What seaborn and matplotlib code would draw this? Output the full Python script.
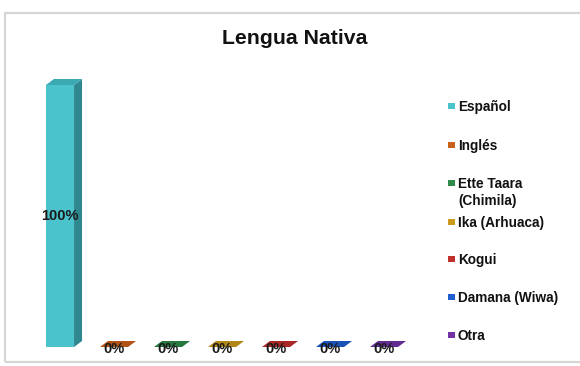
import matplotlib
matplotlib.use("Agg")
import matplotlib.pyplot as plt
from matplotlib.patches import Polygon, Rectangle
import seaborn as sns

# Data
languages = ["Español", "Inglés", "Ette Taara\n(Chimila)", "Ika (Arhuaca)",
             "Kogui", "Damana (Wiwa)", "Otra"]
percentages = [100, 0, 0, 0, 0, 0, 0]
value_labels = ["100%", "0%", "0%", "0%", "0%", "0%", "0%"]

front_colors = ["#4AC3CD", "#C8611C", "#2F8A4C", "#C99A1D", "#C0302C", "#1F5FCF", "#7233A4"]
side_colors = ["#2F8890", "#8E4410", "#1E6034", "#8D6A10", "#85201D", "#153F8E", "#4F2172"]
top_colors = ["#3AA9B2", "#B05314", "#27793F", "#B08617", "#A92725", "#1A52B5", "#632C91"]

sns.set_theme(style="white")
plt.rcParams["font.family"] = ["Liberation Sans", "DejaVu Sans"]

W, H = 580, 366
fig = plt.figure(figsize=(W / 100, H / 100), dpi=100)
fig.patch.set_facecolor("white")

# Chart frame
frame = Rectangle((5 / W, 1 - 362 / H), 1.2, (362 - 13) / H, transform=fig.transFigure,
                  fill=False, edgecolor="#D6D6D6", linewidth=1.6, clip_on=False)
fig.patches.append(frame)

# Plot area: bar spacing 54 px, baseline at 347 px, 100% at 85 px
step = 54.0
x0_px = 60 - 0.6 * step
ax_w = 7.2 * step
base_px = 347
unit = (347 - 85) / 100.0
ax_h = 105 * unit
ax = fig.add_axes([x0_px / W, (H - base_px) / H, ax_w / W, ax_h / H])

sns.barplot(x=languages, y=percentages, hue=languages, palette=front_colors,
            width=0.52, ax=ax, legend=False, saturation=1, linewidth=0)
ax.set_xlim(-0.6, 6.6)
ax.set_ylim(0, 105)
ax.set_axis_off()

# Depth faces for a 3D look, offset in pixels
dx, dy = 8, 6
fig.canvas.draw()
bars = sorted(ax.patches, key=lambda p: p.get_x())
for bar, sc, tc in zip(bars, side_colors, top_colors):
    bx, bw, bh = bar.get_x(), bar.get_width(), bar.get_height()
    (lx, by), (rx, ty) = ax.transData.transform([(bx, 0), (bx + bw, bh)])
    side = Polygon([(rx, by), (rx, ty), (rx + dx, ty + dy), (rx + dx, by + dy)],
                   closed=True, facecolor=sc, edgecolor="none")
    top = Polygon([(lx, ty), (rx, ty), (rx + dx, ty + dy), (lx + dx, ty + dy)],
                  closed=True, facecolor=tc, edgecolor="none")
    for face in (side, top):
        face.set_transform(None)
        face.set_clip_on(False)
        ax.add_patch(face)
        face.set_zorder(2)

# Value labels
for i, (v, lab) in enumerate(zip(percentages, value_labels)):
    if v > 0:
        ax.text(i, v / 2, lab, ha="center", va="center", fontsize=10.5,
                fontweight="bold", color="#1A1A1A", zorder=5)
    else:
        ax.annotate(lab, (i, 0), xytext=(0, -1.2), textcoords="offset points",
                    ha="center", va="center", fontsize=10.5, fontweight="bold",
                    color="#1A1A1A", annotation_clip=False, zorder=5)

# Title
fig.text(295 / W, 1 - 39 / H, "Lengua Nativa", ha="center", va="center",
         fontsize=15.3, fontweight="bold", color="#111111")

# Legend
legend_y = [106, 145, 183, 222, 259, 297, 335]
for lab, col, y in zip(languages, front_colors, legend_y):
    sq = 6.5
    fig.patches.append(Rectangle(((451.5 - sq / 2) / W, 1 - (y + sq / 2) / H), sq / W, sq / H,
                                 transform=fig.transFigure, facecolor=col, edgecolor="none"))
    fig.text(458 / W, 1 - (y - 5.8) / H, lab, ha="left", va="top", fontsize=9.8,
             fontweight="bold", color="#111111", linespacing=1.25)

fig.savefig("out.png", dpi=100, facecolor="white")
